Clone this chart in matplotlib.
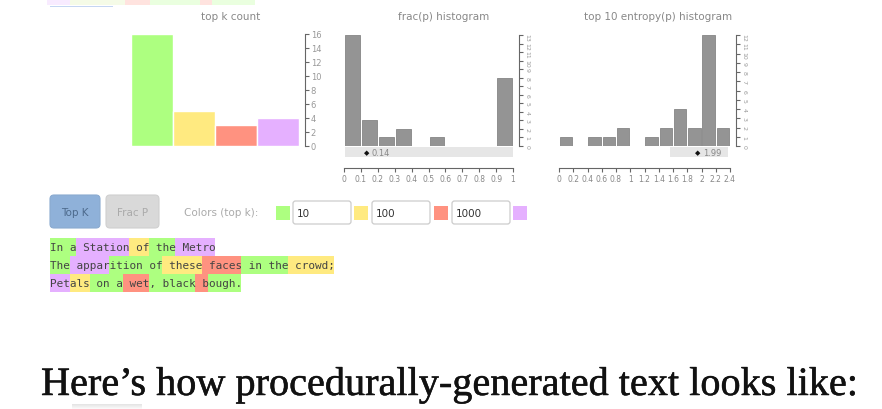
import matplotlib
matplotlib.use("Agg")
import matplotlib.pyplot as plt
import matplotlib.patheffects as pe
from matplotlib.patches import Rectangle, FancyBboxPatch

W, H = 882, 410

# colours used by the top-k buckets
topk_labels = ["10", "100", "1000", "rest"]
topk_colors = ["#ADFF80", "#FFEA80", "#FF9280", "#E5B0FF"]
topk_counts = [16, 5, 3, 4]

frac_bins = [0.0, 0.1, 0.2, 0.3, 0.4, 0.5, 0.6, 0.7, 0.8, 0.9]
frac_counts = [13, 3, 1, 2, 0, 1, 0, 0, 0, 8]
frac_ticks = [0, 0.1, 0.2, 0.3, 0.4, 0.5, 0.6, 0.7, 0.8, 0.9, 1]

ent_bins = [0.0, 0.2, 0.4, 0.6, 0.8, 1.0, 1.2, 1.4, 1.6, 1.8, 2.0, 2.2]
ent_counts = [1, 0, 1, 1, 2, 0, 1, 2, 4, 2, 12, 2]
ent_ticks = [0, 0.2, 0.4, 0.6, 0.8, 1, 1.2, 1.4, 1.6, 1.8, 2, 2.2, 2.4]

# poem tokens with their bucket (0..3)
poem = [
    [("In", 0), (" a", 0), (" Station", 3), (" of", 1), (" the", 0), (" Metro", 3)],
    [("The", 0), (" appar", 3), ("ition", 0), (" of", 0), (" these", 1), (" faces", 2),
     (" in", 0), (" the", 0), (" crowd;", 1)],
    [("Pet", 3), ("als", 1), (" on", 0), (" a", 0), (" wet", 2), (",", 0), (" black", 0),
     (" b", 2), ("ough.", 0)],
]

fig = plt.figure(figsize=(W / 100, H / 100), dpi=100)


def px_axes(x0, y0, x1, y1):
    return fig.add_axes([x0 / W, 1 - y1 / H, (x1 - x0) / W, (y1 - y0) / H])


# overlay for the page elements
ax0 = fig.add_axes([0, 0, 1, 1])
ax0.set_xlim(0, W)
ax0.set_ylim(H, 0)
ax0.axis("off")

# faded strip at the top (previous content scrolled off)
strip = [(47, 70, "#E5B0FF"), (70, 125, "#D8F0A0"), (125, 150, "#FF9280"),
         (150, 200, "#ADFF80"), (200, 212, "#FF9280"), (212, 255, "#ADFF80")]
for a, b, c in strip:
    ax0.add_patch(Rectangle((a, 0), b - a, 6, color=c, alpha=0.25, lw=0))
ax0.add_patch(Rectangle((50, 6.5), 63, 1.5, color="#c5d6f2", lw=0))

axis_col = "#666666"
lab_col = "#999999"


def style_hist(ax, ymax, yticks, ylab_size, ylab_rot):
    for s in ["top", "left", "bottom"]:
        ax.spines[s].set_visible(False)
    ax.spines["right"].set_position(("outward", 4))
    ax.spines["right"].set_color(axis_col)
    ax.yaxis.tick_right()
    ax.set_ylim(0, ymax)
    ax.set_yticks(yticks)
    ax.tick_params(axis="y", direction="out", length=3, width=0.8, color=axis_col,
                   labelsize=ylab_size, labelcolor=lab_col, pad=1.5, labelrotation=ylab_rot)
    ax.set_facecolor("none")


# top k count
ax1 = px_axes(131, 35, 299, 147)
ax1.bar(range(4), topk_counts, width=1.0, color=topk_colors, edgecolor="white", lw=1)
ax1.set_xlim(-0.5, 3.5)
ax1.set_xticks([])
style_hist(ax1, 16, range(0, 17, 2), 6, 0)
ax0.text(231, 17, "top k count", ha="center", va="center", fontsize=7.5, color="#888888")


def hist(ax, bins, counts, width, ticks, ymax):
    lefts = [b + width * 0.06 for b in bins]
    ax.bar(lefts, counts, width=width * 0.88, align="edge", color="#949494",
           edgecolor="#858585", lw=0.6)
    ax.set_xlim(ticks[0], ticks[-1])
    style_hist(ax, ymax, range(0, ymax + 1), 4.5, 270)
    ax.spines["bottom"].set_visible(True)
    ax.spines["bottom"].set_position(("outward", 16))
    ax.spines["bottom"].set_color(axis_col)
    ax.set_xticks(ticks)
    ax.set_xticklabels(["%g" % t for t in ticks])
    ax.tick_params(axis="x", direction="out", length=3, width=0.8, color=axis_col,
                   labelsize=5.5, labelcolor="#888888", pad=1.5)


ax2 = px_axes(344, 36, 513, 147)
hist(ax2, frac_bins, frac_counts, 0.1, frac_ticks, 13)
ax0.text(444, 17, "frac(p) histogram", ha="center", va="center", fontsize=7.5, color="#888888")
ax0.add_patch(Rectangle((345, 148), 168, 10, color="#e6e6e6", lw=0))
ax0.text(364, 153.5, "◆", ha="left", va="center", fontsize=5, color="#111111")
ax0.text(372, 153.5, "0.14", ha="left", va="center", fontsize=6, color="#888888")

ax3 = px_axes(559, 36, 730, 147)
hist(ax3, ent_bins, ent_counts, 0.2, ent_ticks, 12)
ax0.text(658, 17, "top 10 entropy(p) histogram", ha="center", va="center", fontsize=7.5,
         color="#888888")
ax0.add_patch(Rectangle((670, 148), 58, 10, color="#e6e6e6", lw=0))
ax0.text(695, 153.5, "◆", ha="left", va="center", fontsize=5, color="#111111")
ax0.text(703, 153.5, "1.99", ha="left", va="center", fontsize=6, color="#888888")

# buttons
ax0.add_patch(FancyBboxPatch((50, 196), 50, 33, boxstyle="round,pad=0,rounding_size=4",
                             fc="#8fb1d9", ec="#8aaad0", lw=0.8))
ax0.text(75, 213, "Top K", ha="center", va="center", fontsize=7.5, color="#4d6a8c")
ax0.add_patch(FancyBboxPatch((106, 196), 53, 33, boxstyle="round,pad=0,rounding_size=4",
                             fc="#d9d9d9", ec="#d0d0d0", lw=0.8))
ax0.text(132.5, 213, "Frac P", ha="center", va="center", fontsize=7.5, color="#aaaaaa")

ax0.text(184, 213.5, "Colors (top k):", ha="left", va="center", fontsize=7.5, color="#aaaaaa")
sw_x = [276, 354, 434, 513]
for x, c in zip(sw_x, topk_colors):
    ax0.add_patch(Rectangle((x, 207), 14, 14, color=c, lw=0))
box_x = [293, 372, 452]
for x, lab in zip(box_x, topk_labels[:3]):
    ax0.add_patch(FancyBboxPatch((x, 202), 58, 23, boxstyle="round,pad=0,rounding_size=2.5",
                                 fc="white", ec="#cccccc", lw=0.9))
    ax0.text(x + 4, 214, lab, ha="left", va="center", fontsize=7.5, color="#333333")

# highlighted poem
cw = 6.6
x_start = 50
for i, line in enumerate(poem):
    top = 239 + i * 18
    n = 0
    for tok, k in line:
        ax0.add_patch(Rectangle((x_start + n * cw, top), len(tok) * cw, 18,
                                color=topk_colors[k], lw=0))
        n += len(tok)
    ax0.text(x_start, top + 9.5, "".join(t for t, _ in line), ha="left", va="center",
             family="DejaVu Sans Mono", fontsize=7.9, color="#444444")

# heading below
head = ax0.text(41, 396, "Here\u2019s how procedurally-generated text looks like:",
                ha="left", va="baseline", family="Liberation Serif", fontsize=26,
                color="#111111")
fig.canvas.draw()
bb = head.get_window_extent()
head.set_fontsize(26 * 817 / bb.width)
head.set_path_effects([pe.withStroke(linewidth=0.35, foreground="#111111")])

# faint grey smudge under the heading
for j, a in enumerate([0.25, 0.2, 0.15, 0.1, 0.05]):
    ax0.add_patch(Rectangle((72, 405 + j), 70, 1, color="#999999", alpha=a, lw=0))

fig.savefig("out.png", dpi=100)
